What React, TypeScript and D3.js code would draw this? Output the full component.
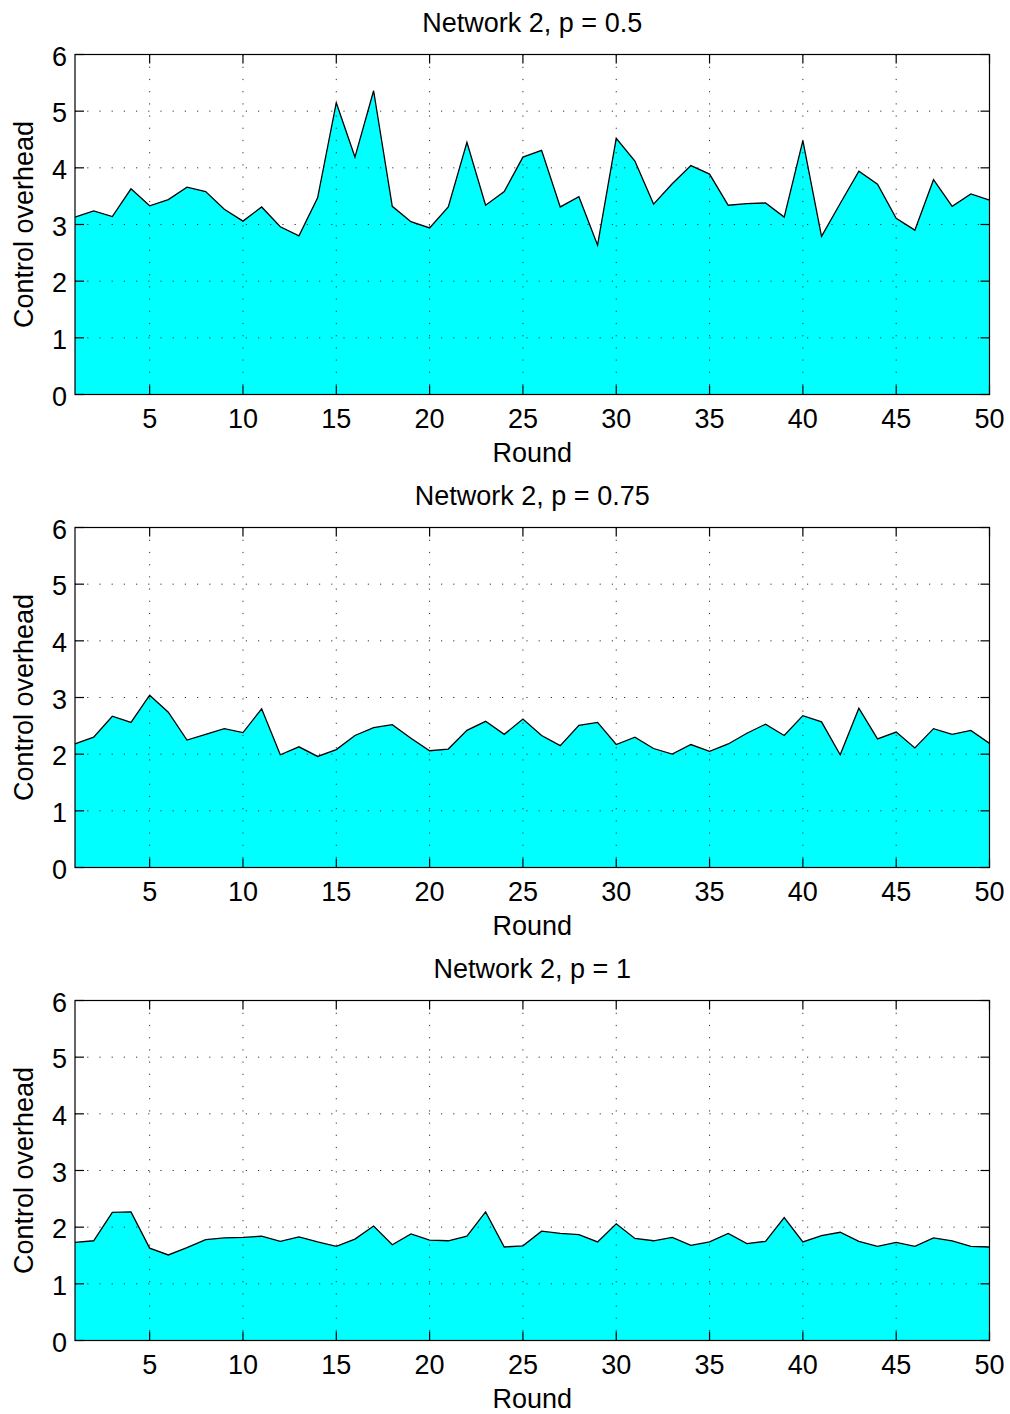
import React, { useEffect, useRef } from "react";
import * as d3 from "d3";

const rounds: number[] = Array.from({ length: 50 }, (_, i) => i + 1);

const titles: string[] = ["Network 2, p = 0.5", "Network 2, p = 0.75", "Network 2, p = 1"];

const seriesP05: number[] = [
  3.13, 3.24, 3.14, 3.63, 3.33, 3.44, 3.66, 3.58, 3.27, 3.06,
  3.31, 2.96, 2.8, 3.47, 5.15, 4.19, 5.36, 3.32, 3.05, 2.94,
  3.31, 4.45, 3.34, 3.58, 4.19, 4.31, 3.31, 3.49, 2.635, 4.52,
  4.12, 3.36, 3.72, 4.04, 3.89, 3.34, 3.37, 3.38, 3.13, 4.48,
  2.79, 3.37, 3.94, 3.71, 3.11, 2.9, 3.79, 3.32, 3.54, 3.43,
];

const seriesP075: number[] = [
  2.18, 2.3, 2.67, 2.56, 3.04, 2.74, 2.25, 2.35, 2.45, 2.38,
  2.8, 1.99, 2.13, 1.96, 2.08, 2.33, 2.47, 2.52, 2.28, 2.06,
  2.09, 2.42, 2.58, 2.35, 2.62, 2.33, 2.15, 2.51, 2.56, 2.17,
  2.3, 2.1, 2.0, 2.17, 2.05, 2.18, 2.37, 2.53, 2.33, 2.68,
  2.57, 1.99, 2.81, 2.27, 2.39, 2.11, 2.45, 2.35, 2.42, 2.19,
];

const seriesP1: number[] = [
  1.73, 1.76, 2.26, 2.27, 1.63, 1.51, 1.64, 1.78, 1.81, 1.82,
  1.84, 1.75, 1.83, 1.74, 1.66, 1.79, 2.02, 1.69, 1.88, 1.77,
  1.76, 1.84, 2.27, 1.65, 1.67, 1.93, 1.89, 1.87, 1.74, 2.06,
  1.8, 1.76, 1.82, 1.68, 1.74, 1.89, 1.71, 1.75, 2.17, 1.74,
  1.85, 1.91, 1.75, 1.66, 1.73, 1.66, 1.81, 1.76, 1.66, 1.65,
];

const xTicks: number[] = [5, 10, 15, 20, 25, 30, 35, 40, 45, 50];
const yTicks: number[] = [0, 1, 2, 3, 4, 5, 6];

const W = 1010;
const H = 1414;
const FONT = "'Liberation Sans', Arial, Helvetica, sans-serif";
const FS = 27;

export default function App() {
  const ref = useRef<SVGSVGElement | null>(null);

  useEffect(() => {
    const svg = d3.select(ref.current);
    svg.selectAll("*").remove();

    const left = 75;
    const right = 989.5;
    const plotH = 340;
    const tops = [54.5, 527.5, 1000.5];
    const allSeries = [seriesP05, seriesP075, seriesP1];

    const x = d3.scaleLinear().domain([1, 50]).range([left, right]);

    allSeries.forEach((vals, idx) => {
      const top = tops[idx];
      const bottom = top + plotH;
      const y = d3.scaleLinear().domain([0, 6]).range([bottom, top]);
      const g = svg.append("g");

      // area
      const area = d3
        .area<number>()
        .x((_, i) => x(rounds[i]))
        .y0(y(0))
        .y1((d) => y(d));
      g.append("path").attr("d", area(vals) as string).attr("fill", "#00ffff");

      // grid
      const grid = g.append("g").attr("stroke", "#333").attr("stroke-width", 1).attr("stroke-dasharray", "1.2,11");
      xTicks.forEach((t) => {
        if (t === 50) return;
        grid.append("line").attr("x1", x(t)).attr("x2", x(t)).attr("y1", top).attr("y2", bottom);
      });
      yTicks.forEach((t) => {
        if (t === 0 || t === 6) return;
        grid.append("line").attr("x1", left).attr("x2", right).attr("y1", y(t)).attr("y2", y(t));
      });

      // line
      const line = d3
        .line<number>()
        .x((_, i) => x(rounds[i]))
        .y((d) => y(d));
      g.append("path")
        .attr("d", line(vals) as string)
        .attr("fill", "none")
        .attr("stroke", "#000")
        .attr("stroke-width", 1.3)
        .attr("stroke-linejoin", "miter");

      // box
      g.append("rect")
        .attr("x", left)
        .attr("y", top)
        .attr("width", right - left)
        .attr("height", plotH)
        .attr("fill", "none")
        .attr("stroke", "#000")
        .attr("stroke-width", 1.2);

      // ticks
      const tl = 9;
      const ticks = g.append("g").attr("stroke", "#000").attr("stroke-width", 1.2);
      xTicks.forEach((t) => {
        ticks.append("line").attr("x1", x(t)).attr("x2", x(t)).attr("y1", bottom).attr("y2", bottom - tl);
        ticks.append("line").attr("x1", x(t)).attr("x2", x(t)).attr("y1", top).attr("y2", top + tl);
      });
      yTicks.forEach((t) => {
        ticks.append("line").attr("x1", left).attr("x2", left + tl).attr("y1", y(t)).attr("y2", y(t));
        ticks.append("line").attr("x1", right).attr("x2", right - tl).attr("y1", y(t)).attr("y2", y(t));
      });

      // tick labels
      const txt = g.append("g").attr("font-family", FONT).attr("font-size", FS).attr("fill", "#000");
      xTicks.forEach((t) => {
        txt.append("text").attr("x", x(t)).attr("y", bottom + 33.5).attr("text-anchor", "middle").text(String(t));
      });
      yTicks.forEach((t) => {
        txt.append("text").attr("x", 67).attr("y", y(t) + 11).attr("text-anchor", "end").text(String(t));
      });

      // axis labels
      txt.append("text").attr("x", (left + right) / 2).attr("y", bottom + 67).attr("text-anchor", "middle").text("Round");
      txt
        .append("text")
        .attr("transform", `translate(33,${(top + bottom) / 2}) rotate(-90)`)
        .attr("text-anchor", "middle")
        .text("Control overhead");
      txt.append("text").attr("x", (left + right) / 2).attr("y", top - 23).attr("text-anchor", "middle").text(titles[idx]);
    });
  }, []);

  return (
    <svg
      ref={ref}
      width={W}
      height={H}
      style={{ position: "absolute", left: 0, top: 0, background: "#fff" }}
    />
  );
}
